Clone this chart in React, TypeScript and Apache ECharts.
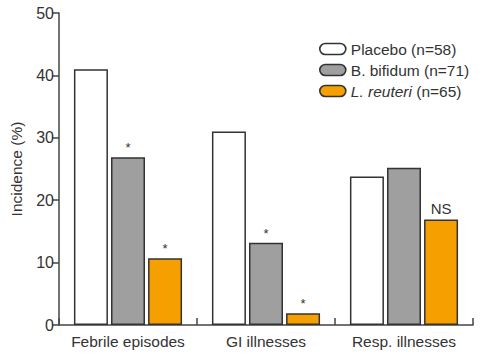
import React, { useEffect, useRef } from "react";
import * as echarts from "echarts";

const categories = ["Febrile episodes", "GI illnesses", "Resp. illnesses"];
const placebo = [41, 31, 23.8];
const bifidum = [26.9, 13.2, 25.2];
const reuteri = [10.7, 1.9, 16.9];
const placeboMarks = ["", "", ""];
const bifidumMarks = ["*", "*", ""];
const reuteriMarks = ["*", "*", "NS"];
const seriesNames = ["Placebo (n=58)", "B. bifidum (n=71)", "L. reuteri (n=65)"];
const yTicks = [0, 10, 20, 30, 40, 50];

const FONT = "Liberation Sans, Arial, sans-serif";
const pill = "path://M5.5,0 L20.5,0 A5.5,5.5 0 0 1 20.5,11 L5.5,11 A5.5,5.5 0 0 1 5.5,0 Z";

function mkData(values: number[], marks: string[]) {
  return values.map((v, i) => ({
    value: v,
    label: {
      show: marks[i] !== "",
      formatter: marks[i],
      fontSize: marks[i] === "NS" ? 15 : 13,
      distance: marks[i] === "NS" ? 4 : 3,
    },
  }));
}

export default function App() {
  const ref = useRef<HTMLDivElement>(null);
  useEffect(() => {
    if (!ref.current) return;
    const chart = echarts.init(ref.current, undefined, { renderer: "svg" });
    const colors = ["#ffffff", "#9f9f9f", "#f5a000"];
    const vals = [placebo, bifidum, reuteri];
    const marks = [placeboMarks, bifidumMarks, reuteriMarks];
    chart.setOption({
      animation: false,
      textStyle: { fontFamily: FONT },
      grid: { left: 57, right: 7, top: 13, bottom: 29 },
      legend: {
        orient: "vertical",
        left: 314,
        top: 36,
        itemWidth: 26,
        itemHeight: 11,
        itemGap: 5,
        icon: pill,
        itemStyle: { borderColor: "#333", borderWidth: 1.6 },
        textStyle: {
          fontSize: 15.5,
          color: "#333",
          fontFamily: FONT,
          rich: { i: { fontStyle: "italic", fontSize: 15.5, color: "#333", fontFamily: FONT } },
        },
        formatter: (name: string) =>
          name === seriesNames[2] ? "{i|L. reuteri} (n=65)" : name,
        data: seriesNames,
      },
      xAxis: {
        type: "category",
        data: categories,
        boundaryGap: true,
        axisLine: { lineStyle: { color: "#444", width: 1.5 } },
        axisTick: { show: true, inside: true, length: 7, interval: 0, lineStyle: { color: "#444", width: 1.5 } },
        axisLabel: { fontSize: 15.5, color: "#333", margin: 8, interval: 0 },
      },
      yAxis: {
        type: "value",
        min: yTicks[0],
        max: yTicks[yTicks.length - 1],
        interval: 10,
        name: "Incidence (%)",
        nameLocation: "middle",
        nameGap: 35,
        nameTextStyle: { fontSize: 15.5, color: "#333" },
        splitLine: { show: false },
        axisLine: { show: true, lineStyle: { color: "#444", width: 1.5 } },
        axisTick: { show: true, length: 7, lineStyle: { color: "#444", width: 1.5 } },
        axisLabel: { fontSize: 16, color: "#333", margin: 5 },
      },
      series: seriesNames.map((n, k) => ({
        name: n,
        type: "bar",
        barWidth: 34,
        barGap: "9%",
        data: mkData(vals[k], marks[k]),
        itemStyle: { color: colors[k], borderColor: "#333", borderWidth: 1.5 },
        label: { position: "top", color: "#333", fontFamily: FONT },
      })),
    });
    return () => chart.dispose();
  }, []);
  return <div ref={ref} style={{ width: 480, height: 354, position: "absolute", left: 0, top: 0 }} />;
}
